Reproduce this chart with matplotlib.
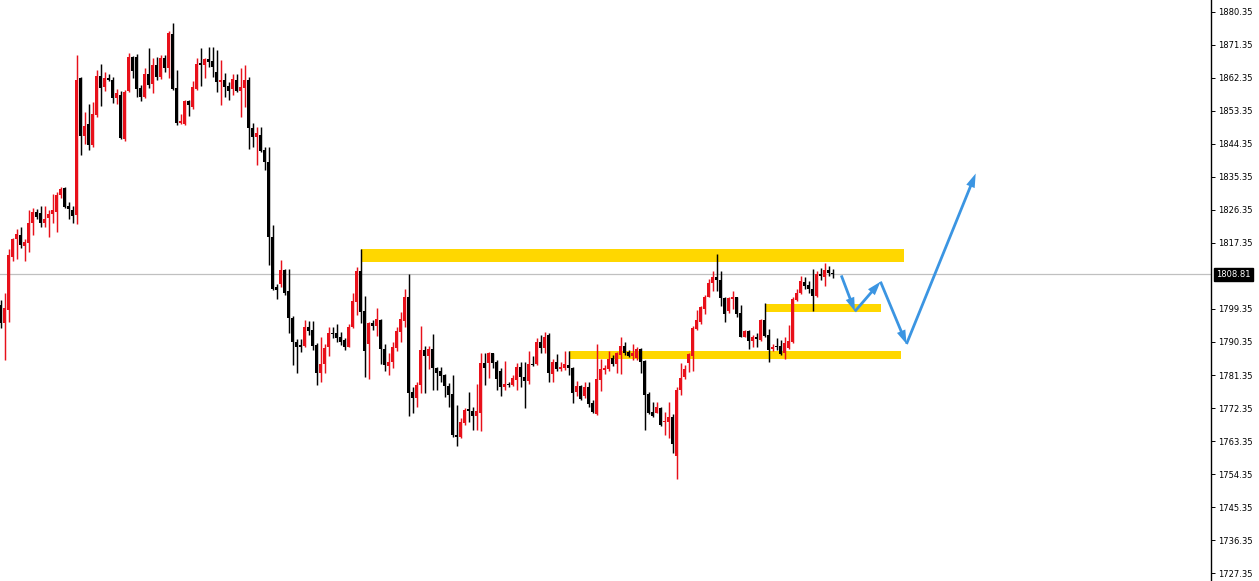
import matplotlib
matplotlib.use("Agg")
import matplotlib.pyplot as plt
from matplotlib.patches import Rectangle

# ---------------- data (OHLC, one row per bar) ----------------
opens = [1800.4,1795.5,1799.1,1813.6,1818.4,1819.5,1816.6,1817.4,1822.7,1825.9,
         1825.6,1822.9,1824.1,1825.3,1825.9,1830.4,1832.3,1827.4,1826.4,1825.0,
         1862.3,1846.6,1849.8,1844.1,1852.3,1862.9,1860.0,1862.4,1861.8,1856.8,
         1857.7,1845.7,1858.8,1868.2,1868.2,1859.7,1857.3,1863.4,1860.6,1865.9,
         1862.7,1867.9,1865.2,1874.3,1859.5,1850.0,1849.7,1856.1,1854.5,1859.3,
         1866.4,1865.9,1867.5,1867.1,1864.1,1861.3,1861.8,1860.2,1859.3,1861.8,
         1858.9,1859.5,1861.8,1848.6,1846.2,1846.8,1842.7,1839.5,1819.1,1805.3,
         1806.2,1810.0,1804.3,1796.8,1790.4,1789.3,1789.3,1794.5,1793.6,1789.5,
         1782.0,1784.4,1788.9,1792.9,1792.9,1791.6,1790.9,1789.1,1794.5,1801.3,
         1809.8,1798.9,1789.8,1795.4,1794.7,1796.3,1788.4,1783.8,1785.0,1788.6,
         1793.2,1796.2,1802.7,1776.8,1775.0,1778.6,1788.2,1786.4,1788.4,1783.2,
         1782.5,1781.4,1778.4,1776.2,1765.0,1764.4,1768.2,1772.0,1771.6,1770.2,
         1771.1,1784.5,1784.5,1787.3,1785.0,1782.5,1778.0,1778.9,1778.6,1780.0,
         1783.6,1780.7,1779.8,1784.4,1784.4,1790.4,1788.6,1792.3,1781.6,1785.0,
         1782.9,1783.2,1784.1,1783.2,1776.8,1778.4,1775.6,1778.2,1773.8,1770.7,
         1780.0,1782.7,1782.9,1785.9,1784.4,1786.8,1789.3,1787.7,1786.5,1785.9,
         1788.4,1785.3,1776.2,1771.3,1771.1,1772.3,1768.4,1768.4,1770.0,1759.3,
         1777.3,1780.7,1784.5,1786.5,1793.8,1795.9,1799.3,1802.7,1806.4,1808.0,
         1807.3,1802.3,1798.9,1802.0,1802.5,1798.3,1791.8,1793.4,1790.7,1791.6,
         1790.9,1796.4,1792.3,1788.4,1789.3,1789.3,1787.4,1788.6,1790.4,1801.8,
         1803.8,1806.8,1805.9,1804.7,1802.9,1808.9,1808.2,1810.0,1809.3]
highs = [1801.8,1803.7,1815.7,1818.6,1821.1,1821.8,1818.4,1826.4,1826.8,1826.5,
         1827.4,1827.4,1826.4,1830.7,1831.3,1832.7,1832.5,1828.6,1827.4,1868.6,
         1862.7,1853.0,1855.2,1855.7,1864.5,1866.1,1863.9,1863.4,1862.7,1859.3,
         1858.8,1859.1,1869.1,1868.4,1868.8,1860.4,1865.0,1870.4,1867.7,1868.2,
         1868.6,1868.6,1875.2,1877.3,1864.5,1852.4,1856.4,1856.4,1861.5,1867.7,
         1870.6,1867.9,1870.9,1870.9,1870.0,1867.3,1863.6,1861.3,1863.4,1863.4,
         1865.0,1865.9,1862.5,1850.1,1849.1,1849.1,1843.4,1843.4,1822.3,1806.2,
         1812.7,1810.2,1810.2,1797.4,1791.1,1791.1,1796.3,1796.2,1796.2,1790.0,
         1791.8,1789.8,1794.5,1794.5,1795.2,1793.2,1791.4,1795.2,1803.6,1810.9,
         1815.6,1802.9,1795.9,1796.3,1799.5,1796.5,1789.8,1787.3,1790.4,1794.5,
         1798.6,1804.7,1808.9,1778.2,1779.5,1794.7,1789.3,1789.3,1792.5,1783.6,
         1783.4,1781.6,1779.3,1781.4,1773.2,1769.5,1772.3,1776.8,1772.7,1778.9,
         1787.4,1787.4,1787.7,1787.4,1785.4,1783.2,1785.3,1779.5,1781.4,1784.5,
         1785.0,1785.0,1788.0,1786.4,1791.4,1792.3,1793.2,1792.7,1785.6,1787.1,
         1785.0,1788.0,1788.0,1783.4,1779.8,1778.6,1779.5,1779.5,1774.5,1789.8,
         1785.6,1784.1,1788.0,1786.8,1787.7,1791.6,1790.4,1788.2,1789.8,1788.9,
         1788.6,1785.4,1776.8,1774.1,1774.1,1772.7,1771.3,1774.1,1770.7,1778.2,
         1784.5,1784.1,1787.4,1794.7,1799.1,1800.2,1803.2,1807.5,1809.8,1814.4,
         1809.8,1802.7,1802.5,1804.3,1802.7,1800.5,1793.6,1793.6,1792.3,1792.7,
         1796.5,1800.9,1793.8,1789.8,1791.4,1790.9,1791.6,1795.0,1802.7,1804.7,
         1808.4,1808.2,1807.1,1810.2,1809.8,1810.5,1812.0,1811.1,1810.2]
lows = [1794.2,1785.5,1795.8,1812.5,1812.9,1815.9,1812.5,1815.0,1819.5,1823.8,
        1821.8,1821.8,1819.1,1822.7,1820.4,1829.5,1826.8,1823.8,1822.9,1822.4,
        1841.4,1844.3,1842.7,1843.6,1851.8,1854.8,1858.8,1861.5,1855.4,1855.2,
        1845.7,1845.2,1858.6,1862.4,1857.3,1856.1,1856.8,1859.5,1858.2,1861.8,
        1862.1,1863.9,1862.3,1859.1,1849.5,1849.7,1849.5,1852.1,1853.9,1859.1,
        1860.2,1862.4,1865.4,1862.7,1858.6,1855.0,1857.3,1856.4,1857.7,1858.6,
        1851.6,1854.5,1842.9,1843.6,1838.6,1842.2,1837.3,1811.4,1804.5,1802.0,
        1805.4,1803.2,1792.7,1784.1,1782.0,1787.7,1789.1,1792.3,1788.2,1778.6,
        1779.5,1781.8,1786.4,1791.4,1790.4,1789.5,1788.2,1788.9,1794.1,1797.7,
        1795.5,1780.7,1780.2,1793.6,1792.0,1784.4,1782.5,1781.4,1783.2,1788.0,
        1790.4,1794.5,1770.2,1770.9,1772.5,1776.5,1776.5,1782.9,1777.3,1777.3,
        1779.5,1775.4,1772.7,1764.5,1762.0,1764.1,1767.7,1768.6,1766.4,1766.4,
        1766.2,1778.6,1780.4,1783.2,1777.3,1775.6,1777.3,1778.0,1778.3,1777.3,
        1778.2,1772.3,1778.9,1783.8,1784.1,1787.4,1787.3,1779.5,1779.5,1782.5,
        1782.5,1782.7,1781.4,1773.8,1775.6,1774.5,1775.0,1772.5,1771.1,1770.4,
        1777.1,1781.6,1782.5,1783.8,1781.8,1781.6,1786.8,1786.2,1785.4,1785.4,
        1782.0,1766.3,1770.7,1770.0,1770.9,1767.5,1765.0,1764.1,1760.0,1752.9,
        1775.9,1780.2,1782.3,1782.5,1793.6,1795.3,1798.0,1802.5,1804.3,1804.3,
        1800.2,1795.9,1798.2,1799.3,1797.3,1791.6,1791.6,1788.4,1789.1,1788.9,
        1790.7,1791.6,1785.0,1788.0,1788.2,1786.8,1785.6,1788.4,1790.2,1801.6,
        1803.4,1804.7,1803.8,1798.9,1802.7,1807.3,1805.6,1808.3,1807.7]
closes = [1795.5,1799.6,1814.1,1818.4,1819.8,1816.8,1817.7,1822.7,1825.9,1824.4,
          1822.9,1823.8,1825.3,1826.4,1830.4,1832.0,1827.3,1826.5,1824.7,1861.8,
          1846.6,1849.3,1844.1,1852.4,1863.0,1859.7,1862.4,1861.8,1856.8,1858.2,
          1845.9,1858.4,1868.2,1864.3,1859.3,1857.3,1863.4,1860.4,1865.9,1862.7,
          1867.7,1865.2,1874.5,1859.3,1850.0,1850.6,1856.1,1855.0,1860.0,1866.1,
          1865.9,1867.5,1866.6,1865.4,1861.3,1861.8,1859.8,1858.9,1862.0,1858.9,
          1859.8,1861.8,1848.6,1846.2,1847.3,1842.5,1839.5,1819.1,1804.7,1804.5,
          1810.0,1803.8,1796.8,1790.4,1789.1,1789.1,1794.5,1793.4,1789.3,1782.0,
          1784.4,1788.6,1792.7,1792.5,1791.4,1790.4,1788.9,1794.5,1801.6,1809.8,
          1798.6,1788.0,1795.6,1794.7,1796.5,1788.4,1784.1,1785.0,1788.9,1793.4,
          1796.5,1802.7,1776.5,1775.0,1778.6,1788.2,1786.4,1788.4,1783.2,1781.8,
          1781.1,1778.4,1775.9,1765.0,1764.4,1768.6,1771.8,1771.6,1770.2,1771.6,
          1784.5,1783.3,1787.3,1784.5,1780.2,1778.0,1778.9,1778.6,1780.4,1783.6,
          1780.7,1779.8,1784.4,1784.1,1790.4,1788.6,1791.6,1781.8,1785.0,1782.9,
          1783.6,1784.4,1783.2,1776.5,1778.4,1774.7,1778.2,1773.4,1771.3,1780.2,
          1782.9,1783.2,1785.6,1784.4,1787.3,1789.3,1787.3,1786.5,1787.4,1788.4,
          1785.0,1775.9,1771.1,1770.2,1772.7,1767.7,1768.7,1770.0,1762.5,1777.3,
          1780.5,1782.9,1787.1,1794.1,1796.4,1799.8,1802.7,1806.4,1808.0,1807.3,
          1802.3,1798.0,1802.3,1802.5,1798.0,1791.8,1793.4,1790.7,1791.6,1791.1,
          1796.4,1792.0,1788.2,1789.1,1788.9,1787.1,1790.0,1790.7,1802.0,1803.8,
          1807.1,1805.6,1804.7,1802.9,1808.9,1808.3,1810.0,1809.3,1808.81]

last_price = 1808.81
price_ticks = [1880.35, 1871.35, 1862.35, 1853.35, 1844.35, 1835.35, 1826.35,
               1817.35, 1799.35, 1790.35, 1781.35, 1772.35, 1763.35, 1754.35,
               1745.35, 1736.35, 1727.35]

# zones: (start bar, end bar, lower price, upper price)
zone_start = [90, 142, 191]
zone_end = [225.75, 225.0, 220.0]
zone_low = [1812.1, 1785.7, 1798.6]
zone_high = [1815.6, 1788.0, 1800.7]

# projected path (bar position, price)
path_bar = [210.2, 213.6, 220.0, 226.5, 243.8]
path_price = [1808.5, 1798.7, 1806.8, 1789.8, 1836.3]

# ---------------- drawing ----------------
UP = "#e8101a"
DOWN = "#000000"
GOLD = "#ffd700"
BLUE = "#3b95e2"

fig = plt.figure(figsize=(12.59, 5.81), dpi=100)
ax = fig.add_axes([0, 0, 1211 / 1259, 1])

n = len(opens)
xs = list(range(n))
colors = [UP if c >= o else DOWN for o, c in zip(opens, closes)]

ax.vlines(xs, lows, highs, colors=colors, linewidth=1.05, zorder=3)
bottoms = [min(o, c) for o, c in zip(opens, closes)]
heights = [max(abs(c - o), 0.35) for o, c in zip(opens, closes)]
ax.bar(xs, heights, bottom=bottoms, width=0.82, color=colors, linewidth=0, zorder=4)

for s, e, lo, hi in zip(zone_start, zone_end, zone_low, zone_high):
    ax.add_patch(Rectangle((s, lo), e - s, hi - lo, facecolor=GOLD, edgecolor="none", zorder=2))

ax.axhline(last_price, color="#c0c0c0", linewidth=0.9, zorder=1)

for i in range(len(path_bar) - 1):
    ax.annotate("", xy=(path_bar[i + 1], path_price[i + 1]),
                xytext=(path_bar[i], path_price[i]),
                arrowprops=dict(arrowstyle="simple,head_length=1.0,head_width=0.65,tail_width=0.2",
                                color=BLUE, shrinkA=0, shrinkB=0, lw=0),
                zorder=6)

ax.set_xlim(-0.125, 302.625)
ax.set_ylim(1725.17, 1883.62)

for side in ["top", "left", "bottom"]:
    ax.spines[side].set_visible(False)
ax.spines["right"].set_color("black")
ax.spines["right"].set_linewidth(1.0)

ax.set_xticks([])
ax.yaxis.tick_right()
ax.set_yticks(price_ticks)
ax.set_yticklabels([f"{v:.2f}" for v in price_ticks])
ax.tick_params(axis="y", direction="out", length=3, width=0.7, pad=2,
               labelsize=6, colors="black")

ax.annotate(f"{last_price:.2f}", xy=(1.0, last_price), xycoords=("axes fraction", "data"),
            xytext=(4, 0), textcoords="offset points", ha="left", va="center",
            fontsize=6, color="white", annotation_clip=False,
            bbox=dict(boxstyle="square,pad=0.25", facecolor="black", edgecolor="black"))

fig.savefig("out.png", dpi=100)
